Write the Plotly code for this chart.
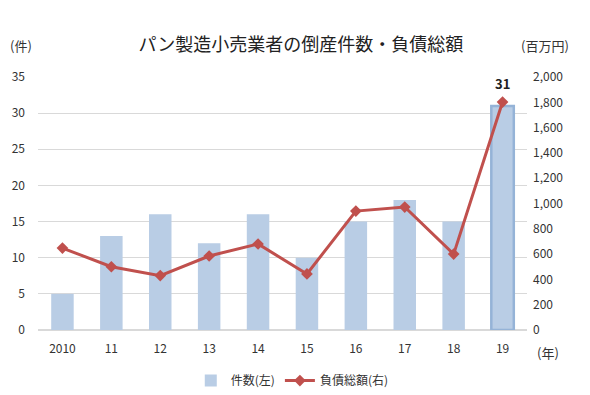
import plotly.graph_objects as go

years = ["2010", "11", "12", "13", "14", "15", "16", "17", "18", "19"]
counts = [5, 13, 16, 12, 16, 10, 15, 18, 15, 31]
debt = [648, 500, 430, 585, 680, 443, 940, 972, 600, 1802]
left_ticks = [0, 5, 10, 15, 20, 25, 30, 35]
right_ticks = [0, 200, 400, 600, 800, 1000, 1200, 1400, 1600, 1800, 2000]

bar_colors = ["#B9CDE5"] * len(years)
line_w = [0] * len(years)
line_w[-1] = 2.5
border_cols = ["#95B3D7"] * len(years)

font_fam = "Noto Sans CJK JP, Noto Sans, sans-serif"

fig = go.Figure()
fig.add_trace(go.Bar(
    x=years, y=counts, name="件数(左)", width=0.46,
    marker=dict(color=bar_colors, line=dict(color=border_cols, width=line_w)),
    yaxis="y",
))
fig.add_trace(go.Scatter(
    x=years, y=debt, name="負債総額(右)", mode="lines+markers",
    line=dict(color="#C0504D", width=3),
    marker=dict(symbol="diamond", size=9, color="#C0504D"),
    yaxis="y2",
))

last = len(years) - 1
fig.add_annotation(x=last, y=counts[-1], xref="x", yref="y", text="<b>31</b>",
                   showarrow=False, yshift=22, font=dict(size=13, color="#222"))
fig.add_annotation(x=-0.035, y=1.126, xref="paper", yref="paper", text="(件)",
                   showarrow=False, xanchor="center", yanchor="middle",
                   font=dict(size=13, color="#333"))
fig.add_annotation(x=1.037, y=1.126, xref="paper", yref="paper", text="(百万円)",
                   showarrow=False, xanchor="center", yanchor="middle",
                   font=dict(size=13, color="#333"))
fig.add_annotation(x=1.043, y=-0.087, xref="paper", yref="paper", text="(年)",
                   showarrow=False, xanchor="center", yanchor="middle",
                   font=dict(size=13, color="#333"))

fig.update_layout(
    width=590, height=395,
    margin=dict(l=38, r=63, t=77, b=65, autoexpand=False),
    paper_bgcolor="white", plot_bgcolor="white",
    font=dict(family=font_fam, size=12, color="#333"),
    title=dict(text="パン製造小売業者の倒産件数・負債総額", x=0.51, xanchor="center",
               y=0.886, yanchor="middle", font=dict(size=18, color="#222")),
    showlegend=True,
    legend=dict(orientation="h", x=0.52, xanchor="center", y=-0.2, yanchor="middle",
                font=dict(size=12)),
    xaxis=dict(type="category", range=[-0.5, last + 0.5], showgrid=False,
               showline=False, ticks="", tickfont=dict(size=12),
               ticklabelstandoff=10, automargin=False),
    yaxis=dict(range=[0, 35], tickvals=left_ticks, showgrid=True, gridcolor="#D9D9D9",
               gridwidth=1, zeroline=True, zerolinecolor="#D9D9D9", showline=False,
               ticks="", ticklabelstandoff=12, automargin=False),
    yaxis2=dict(range=[0, 2000], tickvals=right_ticks, overlaying="y", side="right",
                showgrid=False, zeroline=False, showline=False, ticks="",
                tickformat=",d", ticklabelstandoff=5, automargin=False),
)

fig.write_html("out.html", config={"displayModeBar": False},
               post_script="document.body.style.margin='0';")
